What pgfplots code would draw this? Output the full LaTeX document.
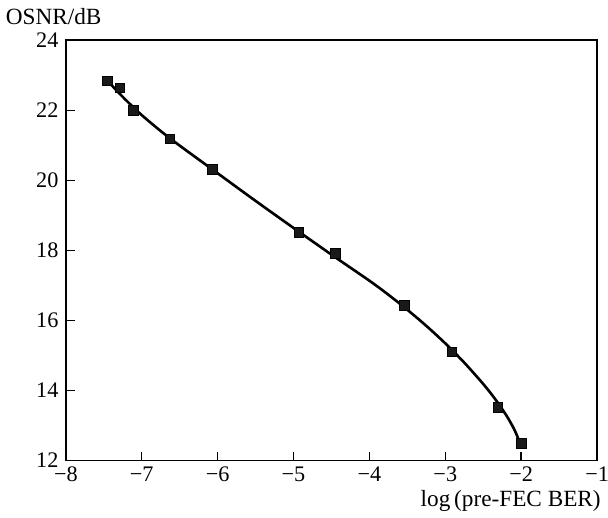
\documentclass[border=0pt]{standalone}
\usepackage{pgfplots}
\pgfplotsset{compat=1.18}
\usepackage{fontspec}
\setmainfont{Liberation Serif}

\begin{document}
\begin{tikzpicture}[font=\fontsize{11}{13}\selectfont]
\begin{axis}[
  scale only axis,
  width=263pt, height=208pt,
  xmin=-8, xmax=-1, ymin=12, ymax=24,
  xtick={-8,-7,-6,-5,-4,-3,-2,-1},
  xticklabels={−8,−7,−6,−5,−4,−3,−2,−1},
  ytick={12,14,16,18,20,22,24},
  /pgf/number format/assume math mode=true,
  tick align=inside,
  tick pos=left,
  major tick length=4.3pt,
  axis line style={line width=0.8pt},
  tick style={line width=0.7pt, black},
  xlabel={log\,(pre-FEC BER)},
  ylabel={OSNR/dB},
  xlabel style={font=\fontsize{11.5}{13.5}\selectfont, at={(axis description cs:1,0)}, anchor=base east, yshift=-23pt, xshift=2pt, inner sep=0pt},
  ylabel style={font=\fontsize{11.5}{13.5}\selectfont, at={(axis description cs:0,1)}, rotate=-90, anchor=base, xshift=-6pt, yshift=8pt, inner sep=0pt},
  xticklabel style={yshift=-2.5pt, inner sep=0.5pt},
  yticklabel style={inner sep=1pt, xshift=-2.5pt},
]
% fitted curve
\addplot[black, line width=1.3pt, smooth] coordinates {
(-7.45,22.84) (-7.25,22.38) (-7.00,21.86) (-6.63,21.20) (-6.07,20.31)
(-5.50,19.41) (-4.93,18.53) (-4.45,17.80) (-4.00,17.13) (-3.75,16.73)
(-3.50,16.30) (-3.25,15.84) (-3.00,15.34) (-2.75,14.79) (-2.50,14.18)
(-2.35,13.77) (-2.20,13.30) (-2.10,12.92) (-2.05,12.68) (-2.02,12.48)
};
% measured points
\addplot[only marks, mark=square*, mark size=2.35pt, black, fill=black!90] coordinates {
(-7.45,22.84) (-7.29,22.63) (-7.11,21.99) (-6.63,21.18) (-6.07,20.31)
(-4.93,18.51) (-4.45,17.91) (-3.54,16.42) (-2.91,15.10) (-2.31,13.51)
(-2.00,12.49)
};
\end{axis}
\pgfresetboundingbox
\path (current axis.south west) ++(-32.6pt,-28.1pt)
  rectangle ([shift={(268.4pt,227.9pt)}]current axis.south west);
\end{tikzpicture}
\end{document}
